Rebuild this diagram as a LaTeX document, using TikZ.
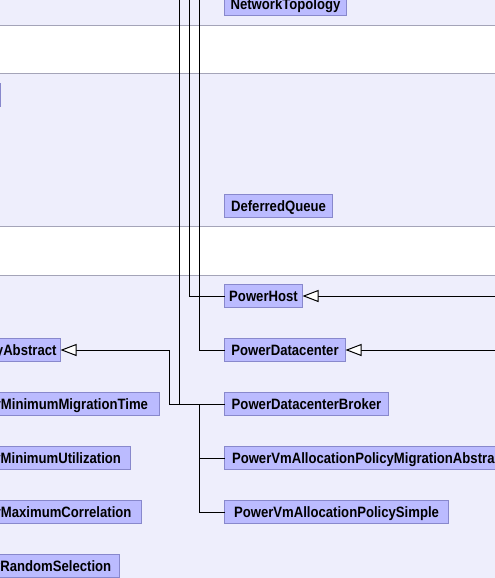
\documentclass[tikz,border=0pt]{standalone}
\usepackage{fontspec}
\setmainfont{Liberation Sans}[FakeStretch=0.875]
\usepackage{tikz}
\usetikzlibrary{arrows.meta}
\usetikzlibrary{calc}

\definecolor{bandlilac}{RGB}{238,238,252}
\definecolor{bandrule}{RGB}{164,164,184}
\definecolor{classfill}{RGB}{187,187,255}
\definecolor{classedge}{RGB}{136,136,204}

\begin{document}
\begin{tikzpicture}[
        x=1pt, y=-1pt, font=\fontsize{15}{17}\selectfont\bfseries,
        rule/.style={draw=bandrule, line width=1pt},
        cls/.style={draw=classedge, fill=classfill, line width=1pt, outer sep=0pt,
            inner ysep=6.2pt, text height=10.6pt, text depth=0pt},
        rcls/.style={cls, anchor=west, inner xsep=0pt},
        link/.style={black, line width=1pt},
        gen/.style={link, -{Triangle[length=16pt, width=12pt, fill=white]}},
    ]
        \useasboundingbox (0,0) rectangle (495,578);
        \clip (0,0) rectangle (495,578);

        % --- Bandas de paquetes ---
        \fill[bandlilac] (0,0) rectangle (495,578);
        \foreach \top/\bot in {25.5/73.5, 226.5/275.5} {
            \fill[white] (0,\top) rectangle (495,\bot);
            \draw[rule] (0,\top) -- (495,\top) (0,\bot) -- (495,\bot);
        }

        % --- Clases de la derecha ---
        \node[rcls, minimum width=122pt] (nettop) at (224.5,4) {NetworkTopology};
        \node[rcls, minimum width=108pt] (defq) at (224.5,206) {DeferredQueue};
        \node[rcls, minimum width=78pt] (host) at (224.5,296) {PowerHost};
        \node[rcls, minimum width=121pt] (dc) at (224.5,350) {PowerDatacenter};
        \node[rcls, minimum width=164pt] (broker) at (224.5,404) {PowerDatacenterBroker};
        \node[cls, anchor=west, inner xsep=7.5pt] (migr) at (224.5,458) {PowerVmAllocationPolicyMigrationAbstract};
        \node[rcls, minimum width=224pt] (simple) at (224.5,512) {PowerVmAllocationPolicySimple};

        % --- Clases de la izquierda (cortadas) ---
        \node[cls, anchor=east, minimum width=40pt] (offleft) at (0.5,95) {};
        \foreach \nm/\cy/\r/\pad/\txt in {
            absp/350/60.5/4/PowerVmAllocationPolicyAbstract,
            mmt/404/159.5/11.5/PowerVmSelectionPolicyMinimumMigrationTime,
            mutil/458/130.5/9.5/PowerVmSelectionPolicyMinimumUtilization,
            mcorr/512/141.5/10/PowerVmSelectionPolicyMaximumCorrelation,
            rsel/566/119.5/8.3/PowerVmSelectionPolicyRandomSelection} {
            \node[cls, anchor=east, inner xsep=\pad pt] (\nm) at (\r,\cy) {\txt};
        }

        % --- Conectores ---
        \coordinate (brokertop) at (179.5,-5);
        \coordinate (hosttop) at (189.5,-5);
        \coordinate (dctop) at (199.5,-5);
        \coordinate (hostsub) at (500,296);
        \coordinate (dcsub) at (500,350);
        \coordinate (genbus) at (169.5,404);
        \coordinate (gentap) at (199.5,404);

        \draw[link] (brokertop) |- (broker.west);
        \draw[link] (hosttop) |- (host.west);
        \draw[link] (dctop) |- (dc.west);
        \draw[gen] (hostsub) -- (host.east);
        \draw[gen] (dcsub) -- (dc.east);
        \draw[gen] (broker.west) -- (genbus) |- (absp.east);
        \draw[link] (migr.west) -| (gentap);
        \draw[link] (simple.west) -| (gentap);
    \end{tikzpicture}
\end{document}
